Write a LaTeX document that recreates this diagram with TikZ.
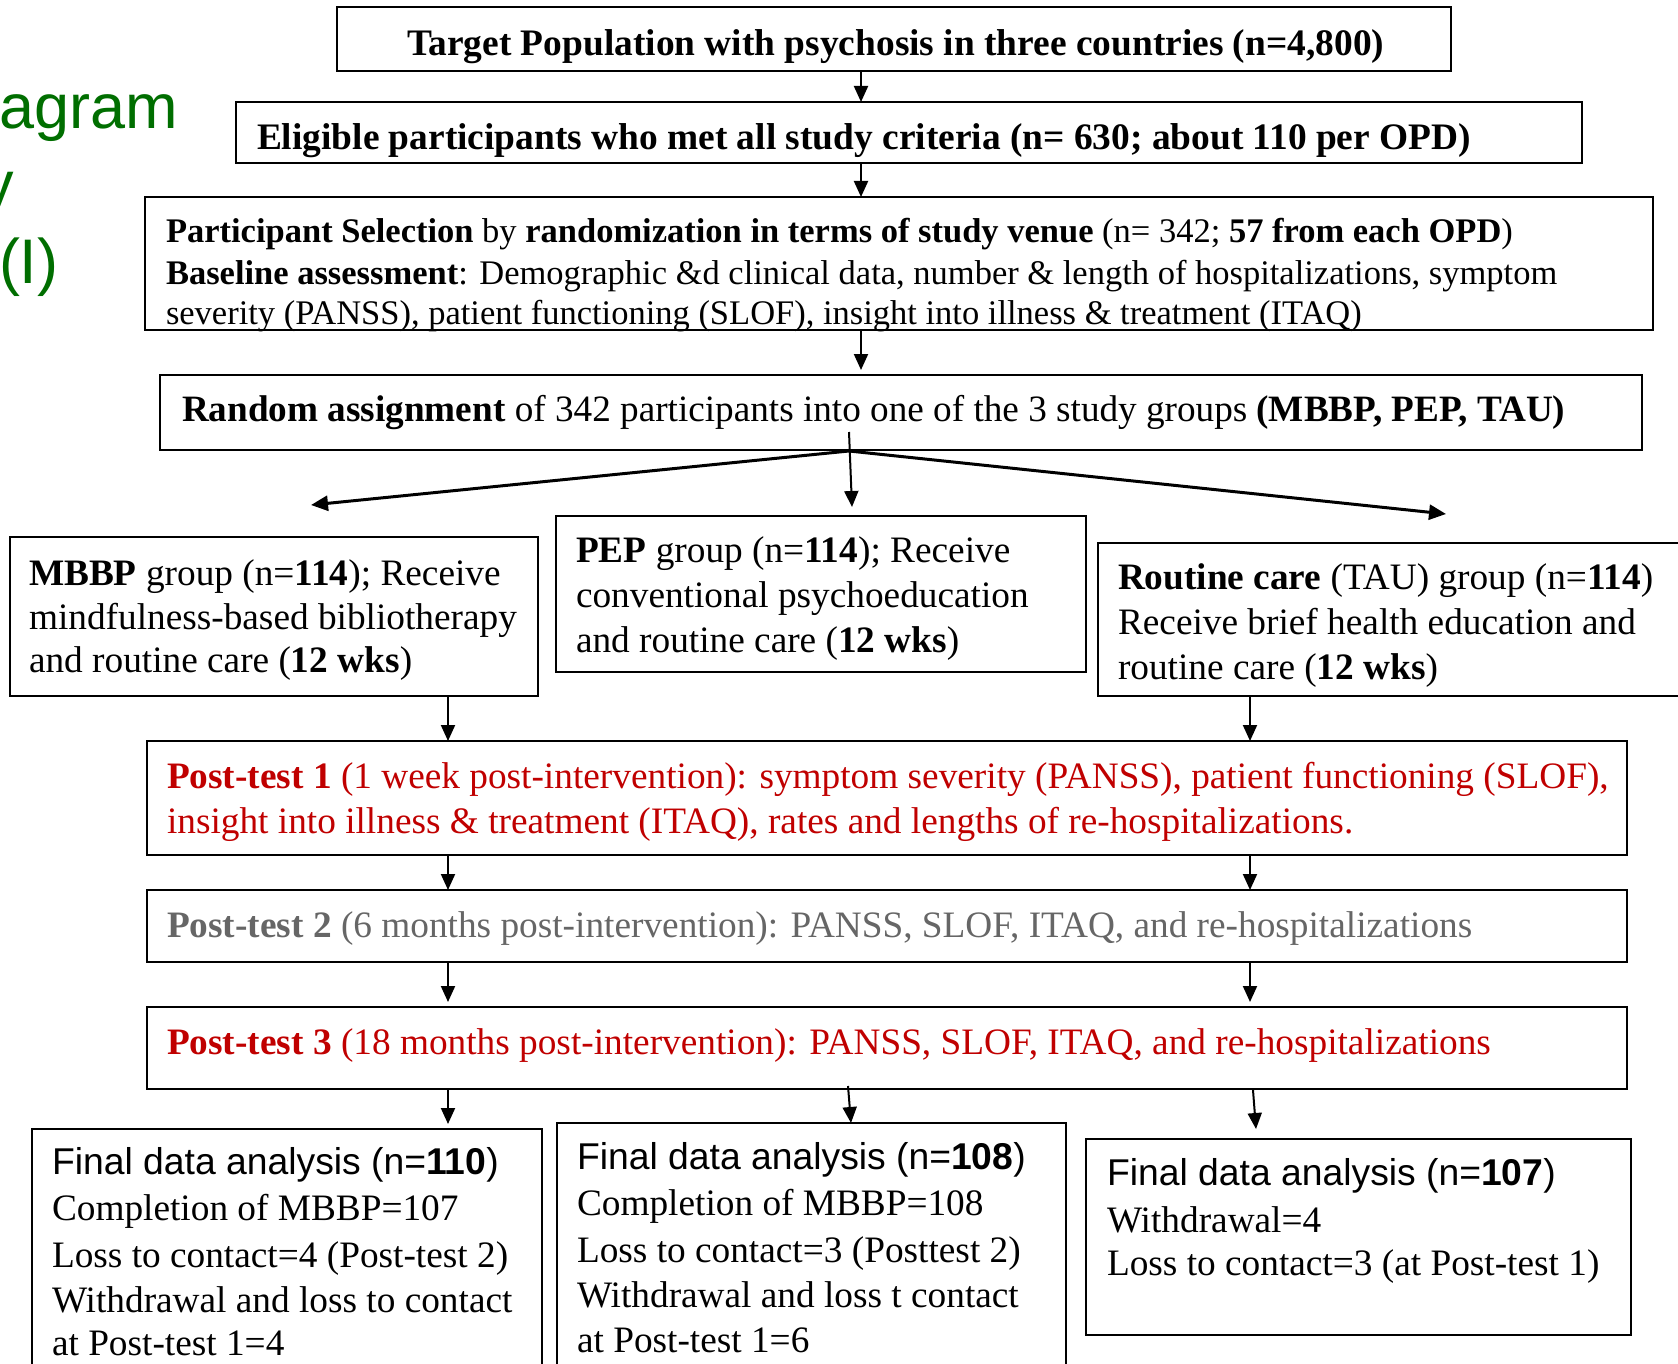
\documentclass[tikz,border=0pt]{standalone}
\usepackage{fontspec}
\setmainfont{Liberation Serif}
\newfontfamily\arialf{Liberation Sans}
\usetikzlibrary{arrows.meta}
\definecolor{myred}{RGB}{192,0,0}
\definecolor{mygray}{RGB}{102,102,102}
\definecolor{mygreen}{RGB}{0,110,0}
\begin{document}
\begin{tikzpicture}[x=1pt,y=-1pt,
  box/.style={draw, line width=2.4pt, inner sep=0, outer sep=0, anchor=north west},
  ln/.style={inner sep=0, outer sep=0, anchor=base west, yshift=-2.5pt},
  fbig/.style={font=\fontsize{37.4}{45}\selectfont\bfseries},
  fpart/.style={font=\fontsize{34.5}{41}\selectfont},
  frand/.style={font=\fontsize{37.2}{44}\selectfont},
  fgrp/.style={font=\fontsize{37.3}{45}\selectfont},
  ttl/.style={font=\arialf\fontsize{63}{76}\selectfont, text=mygreen},
  arr/.style={line width=2pt, -{Triangle[length=16pt,width=14pt]}},
  farr/.style={line width=3pt, -{Triangle[length=17pt,width=15pt]}}
]
\useasboundingbox (0,0) rectangle (1678,1364);
% title fragments
\node[ln, ttl] (ttla) at (-1,126) {agram};
\node[ln, ttl] (ttlb) at (-17,203) {y};
\node[ln, ttl] (ttlc) at (-1,281) {(I)};
% boxes
\node[box, minimum width=1114pt, minimum height=64pt] (target) at (337,7) {};
\node[box, minimum width=1346pt, minimum height=61pt] (elig) at (236,102) {};
\node[box, minimum width=1508pt, minimum height=133pt] (part) at (145,197) {};
\node[box, minimum width=1482pt, minimum height=75pt] (rand) at (160,375) {};
\node[box, minimum width=528pt, minimum height=159pt] (mbbp) at (10,537) {};
\node[box, minimum width=530pt, minimum height=156pt] (pep) at (556,516) {};
\node[box, minimum width=620pt, minimum height=153pt] (rout) at (1098,543) {};
\node[box, minimum width=1480pt, minimum height=114pt] (pt1) at (147,741) {};
\node[box, minimum width=1480pt, minimum height=72pt] (pt2) at (147,890) {};
\node[box, minimum width=1480pt, minimum height=82pt] (pt3) at (147,1007) {};
\node[box, minimum width=510pt, minimum height=280pt] (fin1) at (32,1129) {};
\node[box, minimum width=509pt, minimum height=280pt] (fin2) at (557,1123) {};
\node[box, minimum width=545pt, minimum height=196pt] (fin3) at (1086,1139) {};
% texts
\node[ln, fbig] (ttarget) at (407,53) {Target Population with psychosis in three countries (n=4,800)};
\node[ln, fbig] (telig) at (257,147) {Eligible participants who met all study criteria (n= 630; about 110 per OPD)};
\node[ln, fpart] (tpa) at (166,240) {\textbf{Participant Selection} by \textbf{randomization in terms of study venue} (n= 342; \textbf{57 from each OPD})};
\node[ln, fpart] (tpb) at (166,282) {\textbf{Baseline assessment}: Demographic \&d clinical data, number \& length of hospitalizations, symptom};
\node[ln, fpart] (tpc) at (166,322) {severity (PANSS), patient functioning (SLOF), insight into illness \& treatment (ITAQ)};
\node[ln, frand] (trand) at (182,419) {\textbf{Random assignment} of 342 participants into one of the 3 study groups \textbf{(MBBP, PEP, TAU)}};
\node[ln, fgrp] (tma) at (29,583) {\textbf{MBBP} group (n=\textbf{114}); Receive};
\node[ln, fgrp] (tmb) at (29,627) {mindfulness-based bibliotherapy};
\node[ln, fgrp] (tmc) at (29,670) {and routine care (\textbf{12 wks})};
\node[ln, fgrp] (tea) at (576,560) {\textbf{PEP} group (n=\textbf{114}); Receive};
\node[ln, fgrp] (teb) at (576,605) {conventional psychoeducation};
\node[ln, fgrp] (tec) at (576,650) {and routine care (\textbf{12 wks})};
\node[ln, fgrp] (tra) at (1118,587) {\textbf{Routine care} (TAU) group (n=\textbf{114})};
\node[ln, fgrp] (trb) at (1118,632) {Receive brief health education and};
\node[ln, fgrp] (trc) at (1118,677) {routine care (\textbf{12 wks})};
\node[ln, fgrp, text=myred] (t1a) at (167,786) {\textbf{Post-test 1} (1 week post-intervention): symptom severity (PANSS), patient functioning (SLOF),};
\node[ln, fgrp, text=myred] (t1b) at (167,831) {insight into illness \& treatment (ITAQ), rates and lengths of re-hospitalizations.};
\node[ln, fgrp, text=mygray] (t2a) at (167,935) {\textbf{Post-test 2} (6 months post-intervention): PANSS, SLOF, ITAQ, and re-hospitalizations};
\node[ln, fgrp, text=myred] (t3a) at (167,1052) {\textbf{Post-test 3} (18 months post-intervention): PANSS, SLOF, ITAQ, and re-hospitalizations};
\node[ln, fgrp] (f1a) at (52,1172) {\arialf Final data analysis (n=\textbf{110})};
\node[ln, fgrp] (f1b) at (52,1218) {Completion of MBBP=107};
\node[ln, fgrp] (f1c) at (52,1265) {Loss to contact=4 (Post-test 2)};
\node[ln, fgrp] (f1d) at (52,1310) {Withdrawal and loss to contact};
\node[ln, fgrp] (f1e) at (52,1353) {at Post-test 1=4};
\node[ln, fgrp] (f2a) at (577,1167) {\arialf Final data analysis (n=\textbf{108})};
\node[ln, fgrp] (f2b) at (577,1213) {Completion of MBBP=108};
\node[ln, fgrp] (f2c) at (577,1260) {Loss to contact=3 (Posttest 2)};
\node[ln, fgrp] (f2d) at (577,1305) {Withdrawal and loss t contact};
\node[ln, fgrp] (f2e) at (577,1350) {at Post-test 1=6};
\node[ln, fgrp] (f3a) at (1107,1183) {\arialf Final data analysis (n=\textbf{107})};
\node[ln, fgrp] (f3b) at (1107,1230) {Withdrawal=4};
\node[ln, fgrp] (f3c) at (1107,1273) {Loss to contact=3 (at Post-test 1)};
% connector coordinates
\coordinate (xT) at (861,0);
\coordinate (xL) at (448,0);
\coordinate (xR) at (1250,0);
\coordinate (fanc) at (849,451);
\coordinate (fantop) at (849,432);
\coordinate (tipL) at (311,505);
\coordinate (tipM) at (852,507);
\coordinate (tipR) at (1446,514);
\coordinate (m3s) at (848,1086);
\coordinate (m3e) at (851,1123);
\coordinate (r3s) at (1253,1090);
\coordinate (r3e) at (1256,1129);
% connectors
\draw[arr] (target.south -| xT) -- (elig.north -| xT);
\draw[arr] (elig.south -| xT) -- (part.north -| xT);
\draw[arr, shorten >=5pt] (part.south -| xT) -- (rand.north -| xT);
\draw[farr] (fanc) -- (tipL);
\draw[farr] (fanc) -- (tipR);
\draw[arr] (fantop) -- (tipM);
\draw[arr] (mbbp.south -| xL) -- (pt1.north -| xL);
\draw[arr] (rout.south -| xR) -- (pt1.north -| xR);
\draw[arr] (pt1.south -| xL) -- (pt2.north -| xL);
\draw[arr] (pt1.south -| xR) -- (pt2.north -| xR);
\draw[arr, shorten >=5pt] (pt2.south -| xL) -- (pt3.north -| xL);
\draw[arr, shorten >=5pt] (pt2.south -| xR) -- (pt3.north -| xR);
\draw[arr, shorten >=5pt] (pt3.south -| xL) -- (fin1.north -| xL);
\draw[arr] (m3s) -- (m3e);
\draw[arr] (r3s) -- (r3e);
\end{tikzpicture}
\end{document}
